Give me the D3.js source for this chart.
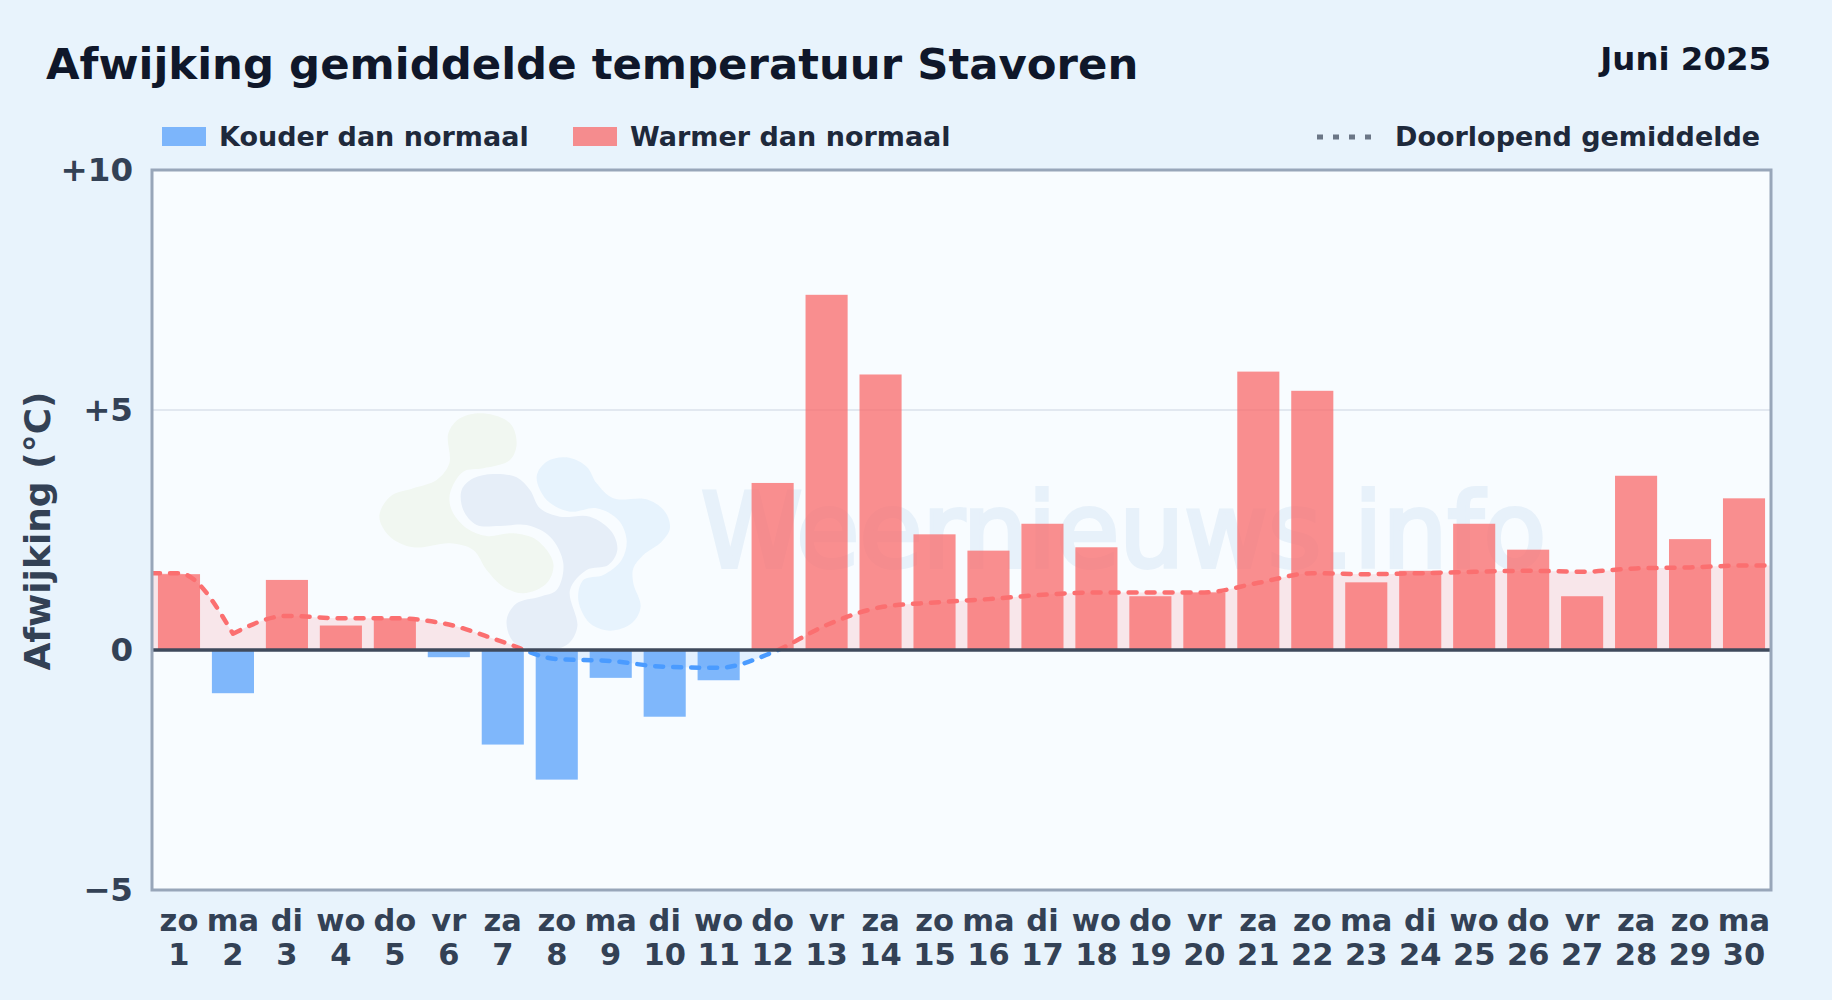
<!DOCTYPE html>
<html lang="nl">
<head>
<meta charset="UTF-8">
<title>Afwijking gemiddelde temperatuur Stavoren</title>
<script src="https://d3js.org/d3.v7.min.js"></script>
<style>
  html, body { margin: 0; padding: 0; background: #e8f3fc; }
  svg { display: block; }
  text { font-family: "DejaVu Sans", sans-serif; font-weight: 700; }
  .axis path, .axis line { display: none; }
  .axis text { fill: #334155; font-family: "DejaVu Sans", sans-serif; font-weight: 700; }
</style>
</head>
<body>
<div id="chart"></div>
<script>
// day labels
const weekdays = ["zo","ma","di","wo","do","vr","za","zo","ma","di","wo","do","vr","za","zo","ma","di","wo","do","vr","za","zo","ma","di","wo","do","vr","za","zo","ma"];
const days = d3.range(1, 31);

// deviation per day (degrees C)
const deviation = [1.58,-0.90,1.46,0.51,0.66,-0.15,-1.97,-2.70,-0.58,-1.39,-0.63,3.48,7.40,5.74,2.41,2.07,2.63,2.14,1.12,1.20,5.80,5.40,1.41,1.65,2.63,2.09,1.12,3.63,2.31,3.16];

// running mean as drawn in the dotted line
const runningMean = [1.60,0.34,0.71,0.66,0.66,0.53,0.17,-0.19,-0.23,-0.35,-0.37,-0.05,0.52,0.89,0.99,1.06,1.15,1.20,1.20,1.20,1.40,1.60,1.58,1.60,1.63,1.65,1.63,1.70,1.72,1.76];

const yTicks = [10, 5, 0, -5];
const yTickLabels = ["+10", "+5", "0", "\u22125"];

const width = 1832, height = 1000;
const plot = {left: 152, right: 1771, top: 170, bottom: 890};

const red = "#fb6f70", blue = "#4a9bff";

const svg = d3.select("#chart").append("svg")
  .attr("width", width)
  .attr("height", height);

const x = d3.scaleBand()
  .domain(days)
  .range([plot.left, plot.right])
  .paddingInner(0.22)
  .paddingOuter(0.11);

const y = d3.scaleLinear()
  .domain([-5, 10])
  .range([plot.bottom, plot.top]);

// plot background
svg.append("rect")
  .attr("x", plot.left).attr("y", plot.top)
  .attr("width", plot.right - plot.left).attr("height", plot.bottom - plot.top)
  .attr("fill", "#f8fcff");

// clip regions above and below zero, for the two colours of line and area
const defs = svg.append("defs");
defs.append("clipPath").attr("id", "above").append("rect")
  .attr("x", plot.left).attr("y", plot.top)
  .attr("width", plot.right - plot.left).attr("height", y(0) - plot.top);
defs.append("clipPath").attr("id", "below").append("rect")
  .attr("x", plot.left).attr("y", y(0))
  .attr("width", plot.right - plot.left).attr("height", plot.bottom - y(0));

// watermark logo, outlines in a 3x grid
const blobs = [
  {fill: "#f1f7f1", pts: [[340,40],[420,70],[440,130],[420,180],[340,205],[280,215],[240,280],[245,330],[290,385],[350,408],[430,400],[500,420],[550,490],[530,550],[460,580],[400,560],[350,510],[310,450],[240,430],[130,442],[60,410],[28,350],[60,290],[130,265],[200,240],[238,190],[235,100],[270,55]]},
  {fill: "#e6eef8", pts: [[370,222],[440,232],[480,270],[510,325],[570,350],[660,350],[725,395],[742,450],[715,495],[650,510],[600,570],[622,680],[590,735],[500,750],[430,725],[410,660],[440,610],[510,590],[560,570],[580,490],[540,410],[470,375],[390,378],[320,375],[280,330],[275,270],[310,235]]},
  {fill: "#e7f3fd", pts: [[590,172],[650,200],[680,250],[730,295],[830,298],[885,335],[900,385],[875,425],[820,465],[790,505],[790,550],[812,620],[785,670],[720,692],[660,670],[625,600],[640,540],[700,525],[755,480],[770,420],[745,360],[680,325],[600,335],[530,300],[500,230],[530,185]]}
];
const blobLine = d3.line().curve(d3.curveCatmullRomClosed);
svg.append("g")
  .attr("transform", "translate(370,400) scale(0.3333)")
  .selectAll("path")
  .data(blobs)
  .join("path")
    .attr("d", d => blobLine(d.pts))
    .attr("fill", d => d.fill);

svg.append("text")
  .attr("x", 701).attr("y", 567)
  .attr("font-size", 102.5)
  .style("font-weight", 400)
  .attr("fill", "#e7f1fa")
  .attr("stroke", "#e7f1fa")
  .attr("stroke-width", 4)
  .text("Weernieuws.info");

// gridlines
svg.append("g").selectAll("line")
  .data(yTicks.filter(d => d !== 0 && d !== 10 && d !== -5))
  .join("line")
    .attr("x1", plot.left).attr("x2", plot.right)
    .attr("y1", d => y(d)).attr("y2", d => y(d))
    .attr("stroke", "#e2e8f0")
    .attr("stroke-width", 2);

// running mean, carried flat to both plot edges
const meanPoints = [[plot.left, runningMean[0]]]
  .concat(runningMean.map((v, i) => [x(days[i]) + x.bandwidth() / 2, v]))
  .concat([[plot.right, runningMean[runningMean.length - 1]]]);

// the curve has a hard corner at day 2, so it is built in two pieces
const meanPieces = [meanPoints.slice(0, 3), meanPoints.slice(2)];

const meanArea = d3.area()
  .x(d => d[0]).y0(y(0)).y1(d => y(d[1]))
  .curve(d3.curveMonotoneX);
const meanLine = d3.line()
  .x(d => d[0]).y(d => y(d[1]))
  .curve(d3.curveMonotoneX);

const areaPath = meanPieces.map(p => meanArea(p)).join("");
const linePath = meanPieces.map(p => meanLine(p)).join("");

svg.append("path")
  .attr("d", areaPath).attr("fill", "#f56b70").attr("fill-opacity", 0.15)
  .attr("clip-path", "url(#above)");
svg.append("path")
  .attr("d", areaPath).attr("fill", blue).attr("fill-opacity", 0.12)
  .attr("clip-path", "url(#below)");

// bars
svg.append("g").selectAll("rect")
  .data(deviation)
  .join("rect")
    .attr("x", (d, i) => x(days[i]))
    .attr("width", x.bandwidth())
    .attr("y", d => y(Math.max(d, 0)))
    .attr("height", d => Math.abs(y(d) - y(0)))
    .attr("fill", d => d >= 0 ? "rgba(250,105,105,0.75)" : "rgba(96,165,250,0.8)");

// dotted line on top, split at zero
[["above", red], ["below", blue]].forEach(([clip, color]) => {
  svg.append("path")
    .attr("d", linePath)
    .attr("fill", "none")
    .attr("stroke", color)
    .attr("stroke-width", 4.5)
    .attr("stroke-linecap", "round")
    .attr("stroke-dasharray", "8 10")
    .attr("clip-path", `url(#${clip})`);
});

// zero line
svg.append("line")
  .attr("x1", plot.left).attr("x2", plot.right)
  .attr("y1", y(0)).attr("y2", y(0))
  .attr("stroke", "#3f4a5c")
  .attr("stroke-width", 3.5);

// plot border
svg.append("rect")
  .attr("x", plot.left).attr("y", plot.top)
  .attr("width", plot.right - plot.left).attr("height", plot.bottom - plot.top)
  .attr("fill", "none")
  .attr("stroke", "#98a6b9")
  .attr("stroke-width", 3);

// axes
const yAxis = d3.axisLeft(y)
  .tickValues(yTicks)
  .tickSize(0)
  .tickPadding(0)
  .tickFormat((d, i) => yTickLabels[i]);
svg.append("g")
  .attr("class", "axis")
  .attr("transform", "translate(133,0)")
  .call(yAxis)
  .selectAll("text")
    .attr("font-size", 32.5);

const xAxis = d3.axisBottom(x).tickSize(0).tickFormat("");
const xg = svg.append("g")
  .attr("class", "axis")
  .attr("transform", `translate(0,${plot.bottom})`)
  .call(xAxis);
xg.selectAll(".tick text").each(function(d, i) {
  const t = d3.select(this).attr("y", null).attr("dy", null).attr("font-size", 30.5);
  t.append("tspan").attr("x", 0).attr("y", 41).text(weekdays[i]);
  t.append("tspan").attr("x", 0).attr("y", 75).text(d);
});

// axis title
svg.append("text")
  .attr("transform", "translate(50,531) rotate(-90)")
  .attr("text-anchor", "middle")
  .attr("font-size", 36)
  .attr("fill", "#334155")
  .text("Afwijking (\u00B0C)");

// titles
svg.append("text")
  .attr("x", 46).attr("y", 79)
  .attr("font-size", 43.4)
  .attr("fill", "#0f172a")
  .text("Afwijking gemiddelde temperatuur Stavoren");
svg.append("text")
  .attr("x", 1771).attr("y", 70)
  .attr("text-anchor", "end")
  .attr("font-size", 32.4)
  .attr("fill", "#0f172a")
  .text("Juni 2025");

// legend
const legendFont = 27, legendY = 146;
const legendText = (lx, s) => svg.append("text")
  .attr("x", lx).attr("y", legendY)
  .attr("font-size", legendFont)
  .attr("fill", "#1e293b")
  .text(s);
svg.append("rect").attr("x", 162).attr("y", 127).attr("width", 44).attr("height", 19)
  .attr("fill", "rgba(96,165,250,0.8)");
legendText(219, "Kouder dan normaal");
svg.append("rect").attr("x", 573).attr("y", 127).attr("width", 44).attr("height", 19)
  .attr("fill", "rgba(250,105,105,0.75)");
legendText(630, "Warmer dan normaal");
svg.append("line")
  .attr("x1", 1317).attr("x2", 1375)
  .attr("y1", 137).attr("y2", 137)
  .attr("stroke", "#6b7686")
  .attr("stroke-width", 5)
  .attr("stroke-dasharray", "6 10");
legendText(1395, "Doorlopend gemiddelde");
</script>
</body>
</html>
